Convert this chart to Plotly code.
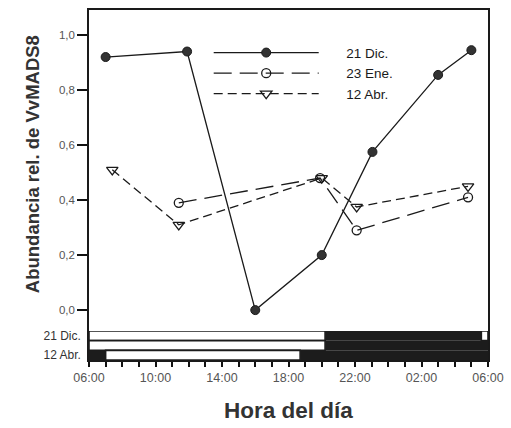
import plotly.graph_objects as go
from plotly.subplots import make_subplots

# Hours of the day (values above 24 belong to the following morning)
dic_hours = [7.0, 11.9, 16.0, 20.0, 23.05, 27.0, 29.0]
dic_values = [0.92, 0.94, 0.0, 0.2, 0.575, 0.855, 0.945]

ene_hours = [11.4, 19.9, 22.1, 28.8]
ene_values = [0.39, 0.48, 0.29, 0.41]

abr_hours = [7.4, 11.4, 20.0, 22.1, 28.8]
abr_values = [0.51, 0.31, 0.48, 0.375, 0.45]

# Light / dark periods for each sampling date (start, end) in hours
photo_rows = ["21 Dic.", "23 Ene.", "12 Abr."]
light_periods = {
    "21 Dic.": [(6.0, 20.2), (29.6, 30.0)],
    "23 Ene.": [(6.0, 20.2)],
    "12 Abr.": [(7.0, 18.7)],
}
dark_periods = {
    "21 Dic.": [(20.2, 29.6)],
    "23 Ene.": [(20.2, 30.0)],
    "12 Abr.": [(6.0, 7.0), (18.7, 30.0)],
}

# Hourly ticks, labelled every four hours
x_tick_vals = list(range(6, 31))
x_tick_text = ["06:00", "", "", "", "10:00", "", "", "", "14:00", "", "", "",
               "18:00", "", "", "", "22:00", "", "", "", "02:00", "", "", "", "06:00"]
y_tick_vals = [0.0, 0.2, 0.4, 0.6, 0.8, 1.0]
y_tick_text = ["0,0", "0,2", "0,4", "0,6", "0,8", "1,0"]

FONT = "Arial, Liberation Sans, sans-serif"
INK = "#1a1a1a"
TICK = "#111111"
PAD = "\u00a0" * 6  # gap between legend sample and its label

fig = make_subplots(rows=2, cols=1, shared_xaxes=True, vertical_spacing=0,
                    row_heights=[321, 29])

fig.add_trace(go.Scatter(
    x=dic_hours, y=dic_values, name=PAD + "21 Dic.", mode="lines+markers",
    line=dict(color=INK, width=1.3),
    marker=dict(symbol="circle", size=9, color="#333333", line=dict(color=INK, width=1)),
), row=1, col=1)

fig.add_trace(go.Scatter(
    x=ene_hours, y=ene_values, name=PAD + "23 Ene.", mode="lines+markers",
    line=dict(color=INK, width=1.3, dash="18px,8px"),
    marker=dict(symbol="circle-open", size=9, color=INK, line=dict(color=INK, width=1.3)),
), row=1, col=1)

fig.add_trace(go.Scatter(
    x=abr_hours, y=abr_values, name=PAD + "12 Abr.", mode="lines+markers",
    line=dict(color=INK, width=1.3, dash="9px,5px"),
    marker=dict(symbol="triangle-down-open", size=10, color=INK, line=dict(color=INK, width=1.3)),
), row=1, col=1)

# Photoperiod bars: white = light, black = darkness
for row in photo_rows:
    for (s, e) in dark_periods[row]:
        fig.add_trace(go.Bar(
            y=[row], x=[e - s], base=[s], orientation="h", width=1.0,
            marker=dict(color="#1c1c1c", line=dict(color="#1c1c1c", width=0)),
            showlegend=False, hoverinfo="skip",
        ), row=2, col=1)
    for (s, e) in light_periods[row]:
        fig.add_trace(go.Bar(
            y=[row], x=[e - s], base=[s], orientation="h", width=1.0,
            marker=dict(color="white", line=dict(color="#1c1c1c", width=1.6)),
            showlegend=False, hoverinfo="skip",
        ), row=2, col=1)

fig.update_layout(
    template="none",
    width=511, height=428,
    margin=dict(l=89, r=23, t=10, b=68),
    paper_bgcolor="white", plot_bgcolor="white",
    font=dict(family=FONT, color=INK),
    barmode="overlay",
    legend=dict(
        x=0.30, y=0.922, xanchor="left", yanchor="top",
        bgcolor="rgba(0,0,0,0)", font=dict(size=13.5, family=FONT, color=INK),
        itemwidth=105, tracegroupgap=0,
    ),
)

fig.update_xaxes(range=[6, 30], showgrid=False, zeroline=False)
fig.update_xaxes(row=1, col=1, showline=True, linecolor=INK, linewidth=1.5,
                 mirror=True, ticks="", showticklabels=False)
fig.update_xaxes(row=2, col=1, showline=True, linecolor=INK, linewidth=1.5,
                 ticks="outside", ticklen=5, tickwidth=1.5, tickcolor=TICK,
                 tickmode="array", tickvals=x_tick_vals, ticktext=x_tick_text,
                 tickfont=dict(size=12.5, color="#555555"),
                 title=dict(text="<b>Hora del día</b>", font=dict(size=22.5, color="#333333"),
                            standoff=18))

fig.update_yaxes(row=1, col=1, range=[-0.076, 1.091], showgrid=False, zeroline=False,
                 showline=True, linecolor=INK, linewidth=1.5, mirror=True,
                 ticks="outside", ticklen=10, tickwidth=1.5, tickcolor=TICK,
                 tickmode="array", tickvals=y_tick_vals, ticktext=y_tick_text,
                 tickfont=dict(size=11.5, color="#555555"))
fig.update_yaxes(row=2, col=1, range=[2.5, -0.5], showgrid=False, zeroline=False,
                 showline=True, linecolor=INK, linewidth=1.5, mirror=True,
                 ticks="", categoryorder="array", categoryarray=photo_rows,
                 tickfont=dict(size=12, color="#333333"), ticklabelstandoff=4)

fig.add_annotation(
    text="<b>Abundancia rel. de VvMADS8</b>", textangle=-90,
    xref="paper", yref="paper", x=-0.14, y=0.56, xanchor="center", yanchor="middle",
    showarrow=False, font=dict(size=18.5, color="#333333", family=FONT),
)

fig.write_html("out.html")
